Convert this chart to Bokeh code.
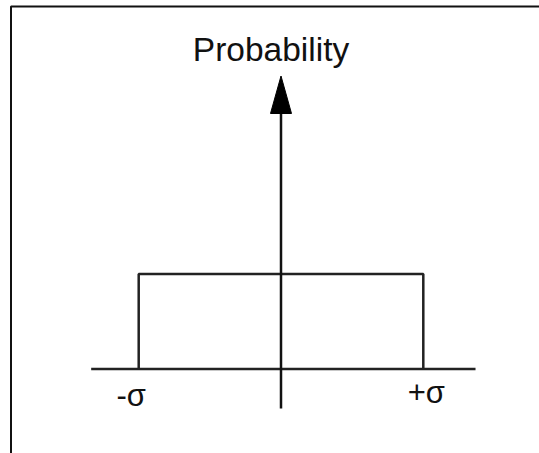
from bokeh.plotting import figure
from bokeh.models import Range1d
from bokeh.embed import file_html
from bokeh.resources import INLINE
from bokeh.core.properties import value

# ---- data (sigma = 1) ----
bounds = [-1.0, 1.0]          # -sigma, +sigma
density = [0.5]               # uniform height 1/(2*sigma)
tick_labels = ["-σ", "+σ"]
axis_title = "Probability"

# ---- layout / style ----
W, H = 539, 453
OX, OY = 0, 0                 # picture position of canvas top-left
SX, SY = 142.3, 190.0         # px per unit
ZX, ZY = 280.5, 368.5         # picture position of origin
x0 = -(ZX - OX) / SX
x1 = x0 + W / SX
y1 = (ZY - OY) / SY
y0 = y1 - H / SY

LC = "#222222"
LW = 2.5

p = figure(width=W, height=H, x_range=Range1d(x0, x1), y_range=Range1d(y0, y1),
           output_backend="svg", toolbar_location=None, min_border=0,
           x_axis_type=None, y_axis_type=None)
p.grid.visible = False
p.outline_line_color = None
p.background_fill_color = "white"
p.border_fill_color = "white"

# frame border (left and top only visible)
bx = x0 + (10.5 - OX) / SX
by = y1 - (6.0 - OY) / SY
p.line(x=[bx, bx, x1], y=[y0, by, by], line_color="#111111", line_width=2)

h = density[0]
# horizontal axis
p.line(x=[-1.334, 1.367], y=[0, 0], line_color=LC, line_width=LW)
# rectangle (uniform distribution)
p.line(x=[bounds[0], bounds[0], bounds[1], bounds[1]], y=[0, h, h, 0],
       line_color=LC, line_width=LW)
# vertical probability axis with arrow
tip = (ZY - 75.5) / SY
base = (ZY - 113.0) / SY
bottom = -(408.0 - ZY) / SY
p.line(x=[0, 0], y=[bottom, base], line_color="#111111", line_width=LW)
hw = 10.5 / SX
p.patch(x=[-hw, 0, hw], y=[base, tip, base], fill_color="black", line_color="black", line_width=1)

# texts
p.text(x=[-10.0 / SX], y=[(ZY - 48.5) / SY], text=[axis_title],
       text_font=value("Liberation Sans"), text_font_size="33.5px",
       text_align="center", text_baseline="alphabetic", text_color="#111111")

label_dx = [-7.5, 3.0]
label_base = [394.5, 391.5]
for xv, lab, dx, bl in zip(bounds, tick_labels, label_dx, label_base):
    p.text(x=[xv], y=[-(bl - ZY) / SY], text=[lab], x_offset=dx,
           text_font=value("Liberation Sans"), text_font_size="31px",
           text_align="center", text_baseline="alphabetic", text_color="#111111")

open("out.html", "w").write(file_html(p, INLINE))
